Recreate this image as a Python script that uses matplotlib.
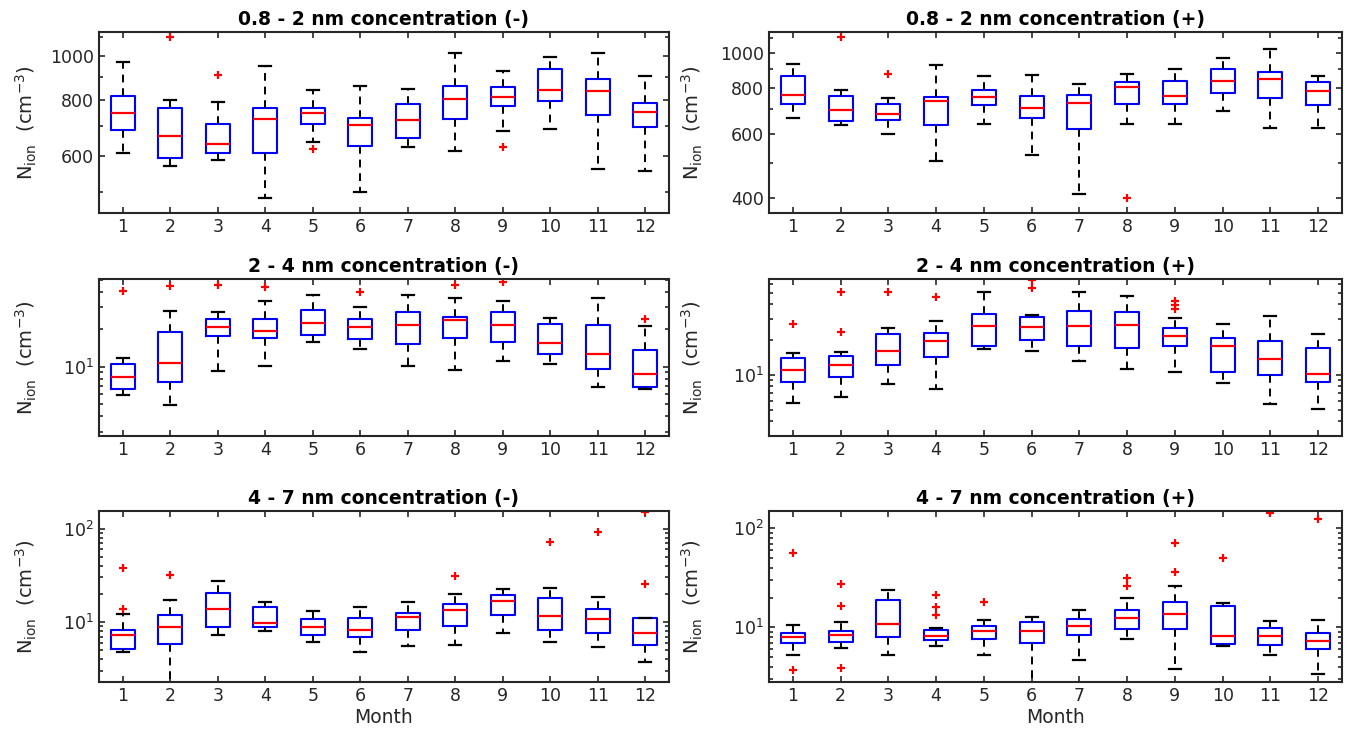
import matplotlib
matplotlib.use('Agg')
import matplotlib.pyplot as plt
from matplotlib.ticker import FixedLocator, NullFormatter, FuncFormatter, LogLocator, LogFormatterSciNotation

months = list(range(1, 13))

# 0.8 - 2 nm concentration (-)
a_lo = [608, 570, 588, 483, 645, 498, 628, 615, 683, 687, 561, 554]
a_q1 = [685, 595, 608, 608, 707, 631, 656, 726, 776, 793, 740, 695]
a_med = [747, 664, 639, 725, 746, 704, 720, 804, 812, 842, 836, 751]
a_q3 = [814, 767, 705, 766, 766, 730, 783, 859, 853, 936, 887, 788]
a_hi = [971, 797, 789, 949, 839, 856, 845, 1014, 928, 993, 1014, 901]
a_out = [[], [1105], [907], [], [620], [], [], [], [627], [], [], []]

# 0.8 - 2 nm concentration (+)
b_lo = [665, 635, 600, 505, 640, 524, 411, 638, 640, 695, 622, 622]
b_q1 = [723, 651, 657, 635, 719, 664, 620, 726, 726, 775, 751, 721]
b_med = [768, 699, 679, 737, 757, 707, 727, 806, 763, 835, 846, 788]
b_q3 = [862, 763, 723, 757, 793, 763, 765, 833, 839, 903, 888, 830]
b_hi = [931, 790, 752, 924, 866, 871, 823, 873, 903, 969, 1021, 866]
b_out = [[], [1103], [877], [], [], [], [], [400], [], [], [], []]

# 2 - 4 nm concentration (-)
c_lo = [5.9, 4.9, 9.3, 10.2, 15.9, 13.9, 10.1, 9.5, 11.1, 10.6, 6.9, 6.6]
c_q1 = [6.6, 7.5, 17.8, 16.9, 18.1, 16.6, 15.2, 17.1, 15.9, 12.7, 9.6, 6.9]
c_med = [8.3, 10.7, 21.0, 19.4, 22.6, 20.9, 21.8, 23.5, 21.5, 15.5, 12.6, 8.7]
c_q3 = [10.5, 19.0, 24.2, 24.1, 28.6, 24.1, 27.3, 25.3, 27.6, 22.2, 21.8, 13.5]
c_hi = [11.7, 27.8, 27.6, 33.4, 37.6, 30.3, 37.6, 35.6, 33.4, 24.8, 35.6, 21.4]
c_out = [[40.7], [44.7], [45.3], [43.4], [], [39.8], [], [45.0], [47.9], [], [], [24.2]]

# 2 - 4 nm concentration (+)
d_lo = [5.7, 6.5, 8.4, 7.6, 16.7, 16.0, 13.1, 11.2, 10.5, 8.6, 5.6, 5.1]
d_q1 = [8.7, 9.5, 12.2, 14.3, 17.7, 20.0, 17.7, 17.0, 17.5, 10.5, 9.9, 8.7]
d_med = [10.9, 12.1, 15.9, 19.4, 26.2, 25.8, 26.3, 26.9, 21.6, 17.5, 13.6, 10.1]
d_q3 = [13.9, 14.6, 22.5, 22.9, 33.3, 31.2, 35.1, 34.7, 25.0, 20.5, 19.4, 17.0]
d_hi = [15.4, 15.8, 25.2, 29.0, 50.7, 32.7, 51.6, 46.8, 30.6, 27.4, 32.0, 22.4]
d_out = [[27.2], [23.4, 50.7], [51.6], [46.2], [], [55.1, 64.1], [], [],
         [36.7, 39.3, 43.0], [], [], []]

# 4 - 7 nm concentration (-)
e_lo = [4.85, 2.0, 7.2, 8.1, 6.1, 4.8, 5.5, 5.7, 7.6, 6.2, 5.4, 3.76]
e_q1 = [5.2, 5.9, 8.8, 8.9, 7.3, 6.9, 8.2, 9.1, 11.9, 8.2, 7.6, 5.7]
e_med = [7.3, 8.8, 13.9, 9.8, 8.9, 8.3, 11.3, 13.4, 16.7, 11.7, 10.9, 7.6]
e_q3 = [8.2, 11.9, 20.3, 14.4, 10.7, 11.0, 12.4, 15.7, 19.3, 17.9, 13.8, 11.2]
e_hi = [12.1, 17.2, 27.5, 16.4, 13.2, 14.5, 16.4, 19.8, 22.4, 23.3, 18.5, 11.2]
e_out = [[13.7, 37.6], [31.9], [], [], [], [], [], [31.1], [], [72], [92], [25.3, 151]]

# 4 - 7 nm concentration (+)
f_lo = [5.2, 6.2, 5.2, 6.4, 5.2, 2.5, 4.65, 7.6, 3.8, 6.5, 5.3, 3.4]
f_q1 = [7.0, 7.1, 8.0, 7.4, 7.6, 7.0, 8.4, 9.7, 9.7, 6.8, 6.7, 6.0]
f_med = [7.9, 8.4, 10.7, 8.1, 9.2, 9.2, 10.2, 12.5, 13.7, 8.1, 8.1, 7.2]
f_q3 = [8.7, 9.2, 19.0, 9.5, 10.2, 11.2, 12.1, 15.0, 18.0, 16.5, 9.8, 8.7]
f_hi = [10.6, 11.2, 23.6, 9.8, 11.9, 12.7, 14.9, 19.9, 26.1, 17.5, 11.7, 11.8]
f_out = [[3.7, 57], [3.9, 16.5, 27.6], [], [13.2, 16.2, 21.3], [18.0], [], [],
         [26.1, 31.7], [36.0, 72], [50.3], [143], [125]]

titles = ['0.8 - 2 nm concentration (-)', '0.8 - 2 nm concentration (+)',
          '2 - 4 nm concentration (-)', '2 - 4 nm concentration (+)',
          '4 - 7 nm concentration (-)', '4 - 7 nm concentration (+)']

dark = '#262626'
W, H = 1351, 736
fig = plt.figure(figsize=(W / 100, H / 100), dpi=100)

# axes boxes in pixels: left, top, right, bottom
cols = [(99, 669), (769, 1342)]
rows = [(32, 213), (279, 436), (511, 682)]


def make_ax(r, c):
    x0, x1 = cols[c]
    y0, y1 = rows[r]
    return fig.add_axes([x0 / W, (H - y1) / H, (x1 - x0) / W, (y1 - y0) / H])


def draw(ax, lo, q1, med, q3, hi, out, title):
    stats = []
    for i in range(12):
        stats.append(dict(whislo=lo[i], q1=q1[i], med=med[i], q3=q3[i],
                          whishi=hi[i], fliers=out[i]))
    ax.bxp(stats, positions=months, widths=0.5, capwidths=0.25,
           boxprops=dict(color='blue', lw=1.5),
           medianprops=dict(color='red', lw=1.6),
           whiskerprops=dict(color='black', lw=1.4, ls=(0, (4, 3))),
           capprops=dict(color='black', lw=1.6),
           flierprops=dict(marker='+', markeredgecolor='red', markersize=6,
                           markeredgewidth=1.6, linestyle='none'))
    ax.set_yscale('log')
    ax.set_xlim(0.5, 12.5)
    ax.set_xticks(months)
    ax.set_xticklabels([str(m) for m in months])
    ax.set_title(title, fontsize=13.5, fontweight='bold', pad=5)
    ax.set_ylabel(r'N$_{\rm ion}$  (cm$^{-3}$)', fontsize=14, color=dark)
    for s in ax.spines.values():
        s.set_linewidth(1.5)
        s.set_color(dark)
    ax.tick_params(which='both', direction='in', top=True, right=True,
                   colors=dark, labelsize=12.5, width=1.2)
    ax.tick_params(which='major', length=4.5)
    ax.tick_params(which='minor', length=2.8)
    ax.tick_params(axis='x', which='minor', bottom=False, top=False)


axes = [make_ax(r, c) for r in range(3) for c in range(2)]
draw(axes[0], a_lo, a_q1, a_med, a_q3, a_hi, a_out, titles[0])
draw(axes[1], b_lo, b_q1, b_med, b_q3, b_hi, b_out, titles[1])
draw(axes[2], c_lo, c_q1, c_med, c_q3, c_hi, c_out, titles[2])
draw(axes[3], d_lo, d_q1, d_med, d_q3, d_hi, d_out, titles[3])
draw(axes[4], e_lo, e_q1, e_med, e_q3, e_hi, e_out, titles[4])
draw(axes[5], f_lo, f_q1, f_med, f_q3, f_hi, f_out, titles[5])

plain = FuncFormatter(lambda v, p: '%d' % round(v))
axes[0].set_ylim(448, 1131)
axes[0].yaxis.set_major_locator(FixedLocator([600, 800, 1000]))
axes[0].yaxis.set_minor_locator(FixedLocator([500, 700, 900, 1100]))
axes[1].set_ylim(365, 1139)
axes[1].yaxis.set_major_locator(FixedLocator([400, 600, 800, 1000]))
axes[1].yaxis.set_minor_locator(FixedLocator([500, 700, 900, 1100]))
for ax in axes[:2]:
    ax.yaxis.set_major_formatter(plain)
    ax.yaxis.set_minor_formatter(NullFormatter())

axes[2].set_ylim(2.78, 50.6)
axes[3].set_ylim(3.0, 66)
axes[4].set_ylim(2.29, 154)
axes[5].set_ylim(2.8, 150)
for ax in axes[2:]:
    ax.yaxis.set_major_locator(LogLocator(base=10))
    ax.yaxis.set_major_formatter(LogFormatterSciNotation())
    ax.yaxis.set_minor_locator(LogLocator(base=10, subs=range(2, 10)))
    ax.yaxis.set_minor_formatter(NullFormatter())

for i, ax in enumerate(axes):
    ax.yaxis.set_label_coords(-0.105 if i % 2 == 0 else -0.112, 0.5)

for ax in axes[4:]:
    ax.set_xlabel('Month', fontsize=13.5, color=dark, labelpad=2)

fig.savefig('out.png', dpi=100, facecolor='white')
